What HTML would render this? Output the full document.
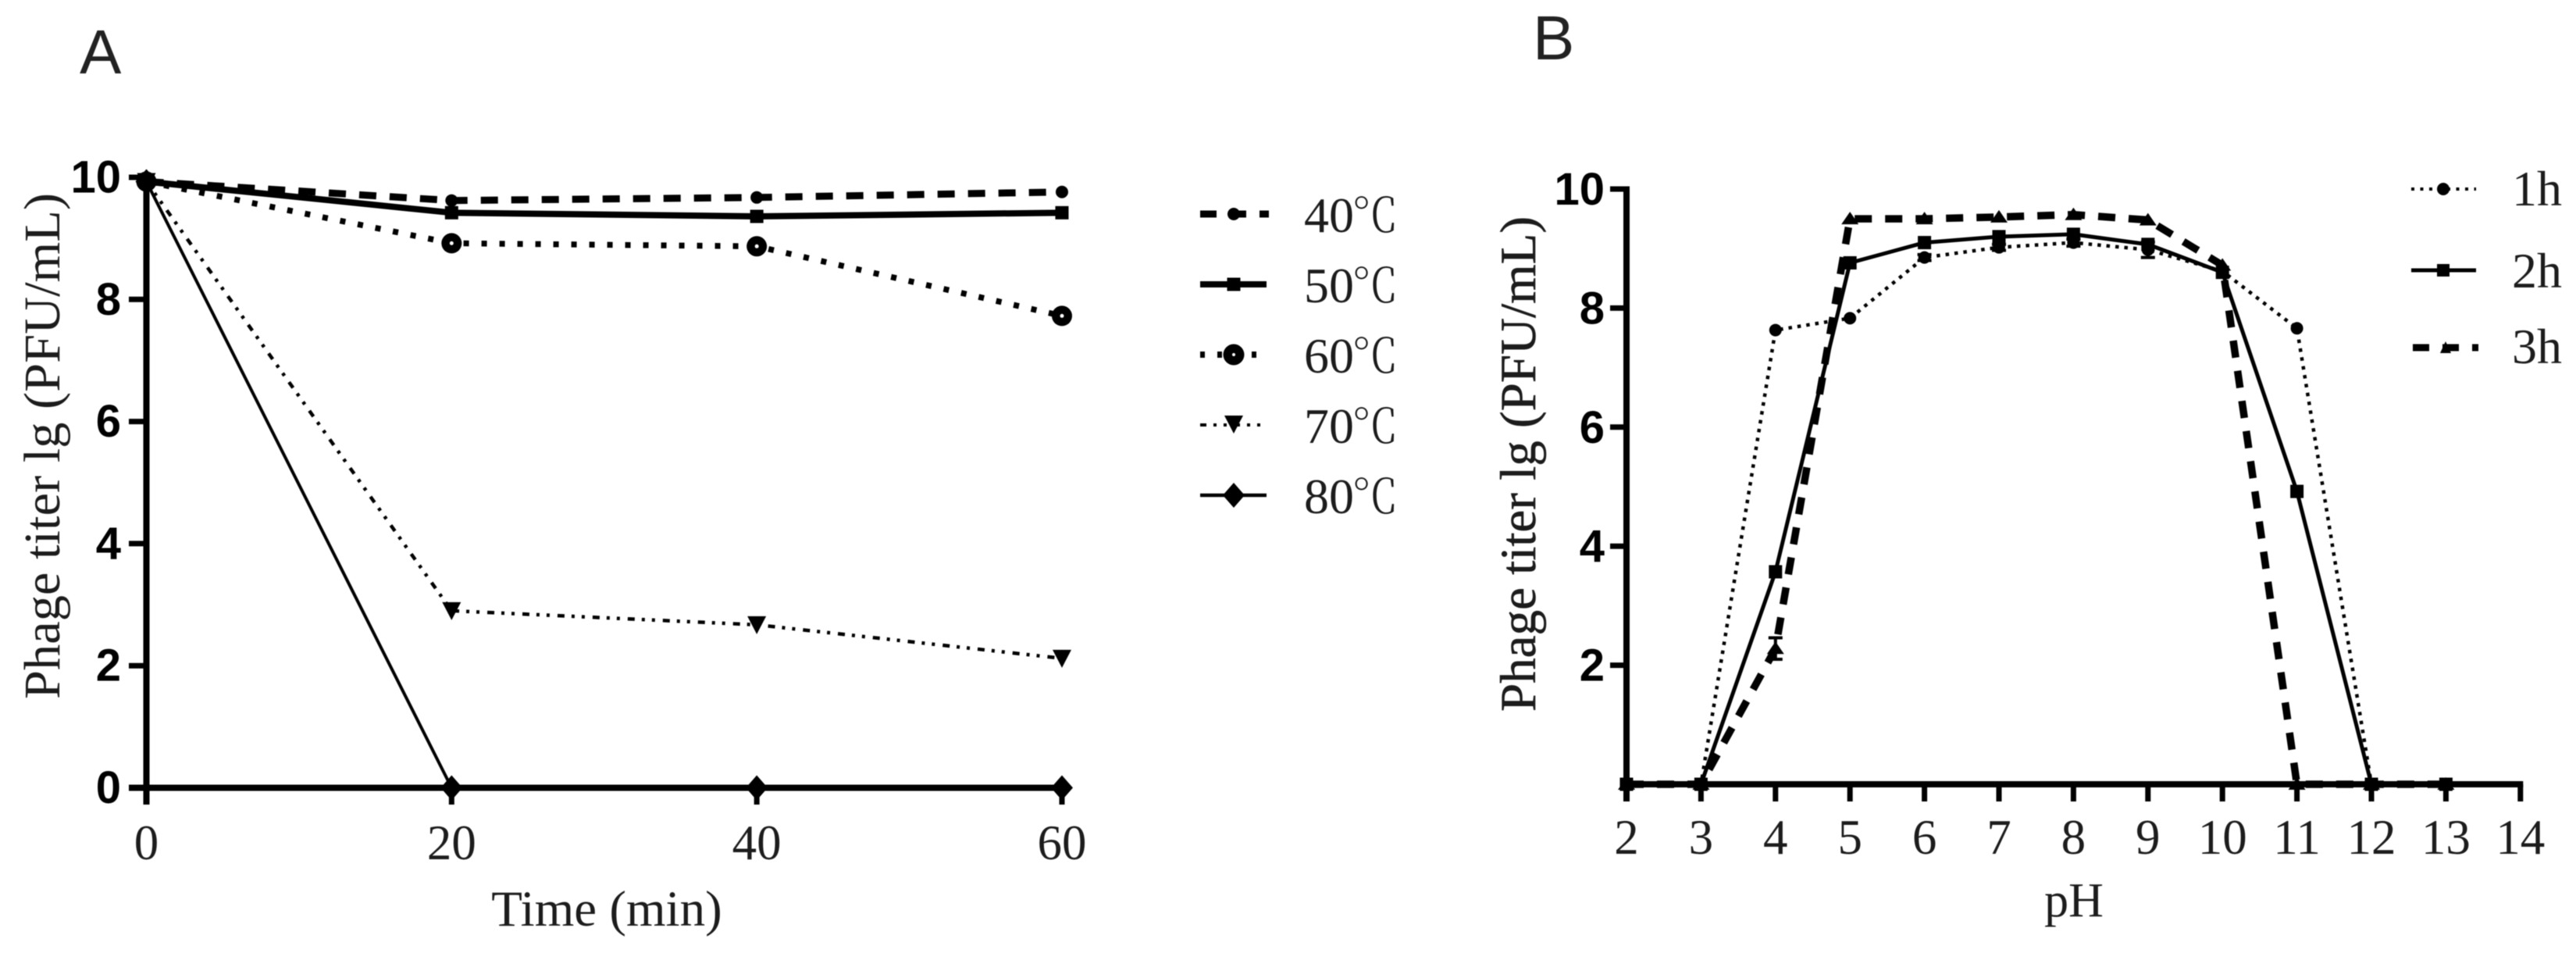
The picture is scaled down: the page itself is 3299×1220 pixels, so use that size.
<!DOCTYPE html>
<html lang="en">
<head>
<meta charset="utf-8">
<title>Phage titer stability charts</title>
<style>
html,body{margin:0;padding:0;background:#fff;}
body{width:3299px;height:1220px;overflow:hidden;}
svg{display:block;}
.serif{font-family:"Liberation Serif","Noto Serif CJK SC",serif;fill:#1c1c1c;}
.sans{font-family:"Liberation Sans",sans-serif;fill:#222;}
.tick-y{font-family:"Liberation Sans",sans-serif;font-weight:700;font-size:58px;fill:#000;}
.tick-x{font-family:"Liberation Serif",serif;font-size:63px;fill:#1c1c1c;}
.leg{font-size:64px;}
.cel{font-family:"Noto Serif CJK SC",serif;font-size:60px;font-weight:300;}
</style>
</head>
<body>
<svg id="fig" xmlns="http://www.w3.org/2000/svg" width="3299" height="1220" viewBox="0 0 3299 1220">
  <rect width="3299" height="1220" fill="#fff"/>
  <g id="root" style="filter:blur(.6px)">
    <text class="sans" x="102" y="94" font-size="80">A</text>
    <text class="sans" x="1963" y="76" font-size="80">B</text>

    <g id="chartA"></g>
    <g id="chartB"></g>

    <text class="serif" transform="translate(76,571) rotate(-90)" text-anchor="middle" font-size="66" textLength="648" lengthAdjust="spacingAndGlyphs">Phage titer lg (PFU/mL)</text>
    <text class="serif" x="777" y="1185" text-anchor="middle" font-size="65">Time (min)</text>
    <text class="serif" transform="translate(1966,594) rotate(-90)" text-anchor="middle" font-size="65" stroke="#1c1c1c" stroke-width=".6" textLength="634" lengthAdjust="spacingAndGlyphs">Phage titer lg (PFU/mL)</text>
    <text class="serif" x="2656" y="1173" text-anchor="middle" font-size="62">pH</text>

    <!-- Legend A -->
    <g>
      <g>
        <line x1="1537" y1="274" x2="1625" y2="274" stroke="#000" stroke-width="9" stroke-dasharray="21 17"/>
        <circle cx="1580" cy="274" r="8" fill="#000"/>
        <text class="serif leg" x="1670" y="297">40<tspan class="cel" x="1731">℃</tspan></text>
      </g>
      <g>
        <line x1="1537" y1="364" x2="1622" y2="364" stroke="#000" stroke-width="8"/>
        <rect x="1571.5" y="355.5" width="17" height="17" fill="#000"/>
        <text class="serif leg" x="1670" y="387">50<tspan class="cel" x="1731">℃</tspan></text>
      </g>
      <g>
        <line x1="1537" y1="454" x2="1622" y2="454" stroke="#000" stroke-width="8" stroke-dasharray="6 16"/>
        <circle cx="1580" cy="454" r="13.5" fill="#000"/>
        <circle cx="1580" cy="454" r="2" fill="#fff"/>
        <text class="serif leg" x="1670" y="477">60<tspan class="cel" x="1731">℃</tspan></text>
      </g>
      <g>
        <line x1="1537" y1="544" x2="1622" y2="544" stroke="#000" stroke-width="4" stroke-dasharray="8 9 4 9 4 9"/>
        <path d="M1568 532H1592L1580 555Z" fill="#000"/>
        <text class="serif leg" x="1670" y="567">70<tspan class="cel" x="1731">℃</tspan></text>
      </g>
      <g>
        <line x1="1537" y1="634" x2="1622" y2="634" stroke="#000" stroke-width="4.5"/>
        <path d="M1580 618L1594 634L1580 650L1566 634Z" fill="#000"/>
        <text class="serif leg" x="1670" y="657">80<tspan class="cel" x="1731">℃</tspan></text>
      </g>
    </g>

    <!-- Legend B -->
    <g>
      <g>
        <line x1="3088" y1="242" x2="3171" y2="242" stroke="#000" stroke-width="4" stroke-dasharray="4 7.5"/>
        <circle cx="3129" cy="242" r="8" fill="#000"/>
        <text class="serif leg" x="3281" y="263" text-anchor="end">1h</text>
      </g>
      <g>
        <line x1="3088" y1="346" x2="3171" y2="346" stroke="#000" stroke-width="5"/>
        <rect x="3121" y="338" width="16" height="16" fill="#000"/>
        <text class="serif leg" x="3281" y="368" text-anchor="end">2h</text>
      </g>
      <g>
        <line x1="3090" y1="445" x2="3174" y2="445" stroke="#000" stroke-width="9" stroke-dasharray="21 17"/>
        <path d="M3125 452L3132 437L3139 452Z" fill="#000"/>
        <text class="serif leg" x="3281" y="465" text-anchor="end">3h</text>
      </g>
    </g>
  </g>
</svg>
<script>
// ---- Chart A data: time vs. phage titer at each temperature ----
const timeCategories = [0, 20, 40, 60];
const timeTickLabels = ['0', '20', '40', '60'];
const titerTicksA = [0, 2, 4, 6, 8, 10];
const values40c = [9.93, 9.62, 9.67, 9.76];
const values50c = [9.93, 9.42, 9.36, 9.42];
const values60c = [9.93, 8.92, 8.87, 7.73];
const values70c = [9.93, 2.90, 2.67, 2.12];
const values80c = [9.93, 0, 0, 0];

// ---- Chart B data: pH vs. phage titer at each duration ----
const phCategories = [2, 3, 4, 5, 6, 7, 8, 9, 10, 11, 12, 13];
const phTicks = [2, 3, 4, 5, 6, 7, 8, 9, 10, 11, 12, 13, 14];
const titerTicksB = [2, 4, 6, 8, 10];
const values1h = [0, 0, 7.63, 7.83, 8.85, 9.02, 9.10, 8.98, 8.62, 7.66, 0, 0];
const values2h = [0, 0, 3.57, 8.76, 9.10, 9.20, 9.24, 9.07, 8.60, 4.92, 0, 0];
const values3h = [0, 0, 2.28, 9.50, 9.50, 9.53, 9.57, 9.48, 8.72, 0, 0, 0];
const errors1h = [0, 0, 0, 0, 0.05, 0.05, 0.06, 0.13, 0, 0, 0, 0];
const errors3h = [0, 0, 0.18, 0, 0, 0, 0, 0, 0, 0, 0, 0];

const SVG_NS = 'http://www.w3.org/2000/svg';
function make(tag, parent, props) {
  const node = document.createElementNS(SVG_NS, tag);
  for (const k in props) node.setAttribute(k, props[k]);
  parent.appendChild(node);
  return node;
}

// Axis functions
const xA = t => 187.5 + (t - 0) * (1360 - 187.5) / 60;
const yA = v => 1008.5 - v * 78.15;
const xB = p => 2083 + (p - 2) * 95.4;
const yB = v => 1004 - v * 76.2;

function drawMarker(parent, kind, x, y, name) {
  let el;
  if (kind === 'circle') {
    el = make('circle', parent, {cx: x, cy: y, r: 8, fill: '#000'});
  } else if (kind === 'ring') {
    el = make('circle', parent, {cx: x, cy: y, r: 13, fill: '#000'});
    const hole = make('circle', parent, {cx: x, cy: y, r: 2.5, fill: '#fff'});
    
    
  } else if (kind === 'square') {
    el = make('rect', parent, {x: x - 8.5, y: y - 8.5, width: 17, height: 17, fill: '#000'});
  } else if (kind === 'triDown') {
    el = make('path', parent, {d: `M${x-12} ${y-11}H${x+12}L${x} ${y+12}Z`, fill: '#000'});
  } else if (kind === 'triUp') {
    el = make('path', parent, {d: `M${x-11} ${y+7}L${x} ${y-9}L${x+11} ${y+7}Z`, fill: '#000'});
  } else {
    el = make('path', parent, {d: `M${x} ${y-16}L${x+14} ${y}L${x} ${y+16}L${x-14} ${y}Z`, fill: '#000'});
  }
  
  
}

function drawSeries(parent, name, xs, ys, fx, fy, style, errs) {
  const g = make('g', parent, {});
  
  
  const pts = xs.map((x, i) => fx(x) + ',' + fy(ys[i])).join(' ');
  const line = make('polyline', g, {
    points: pts, fill: 'none', stroke: '#000',
    'stroke-width': style.width,
    'stroke-linejoin': 'round',
    'stroke-linecap': style.cap || 'butt',
    'stroke-dasharray': style.dash || 'none'
  });
  
  
  xs.forEach((x, i) => {
    if (errs && errs[i] > 0) {
      const bar = make('path', g, {
        d: `M${fx(x)} ${fy(ys[i]+errs[i])}V${fy(ys[i]-errs[i])}M${fx(x)-9} ${fy(ys[i]+errs[i])}h18M${fx(x)-9} ${fy(ys[i]-errs[i])}h18`,
        stroke: '#000', 'stroke-width': 4, fill: 'none'
      });
      
      
    }
    drawMarker(g, style.marker, fx(x), fy(ys[i]), 'point-' + name + '-' + x);
  });
}

function drawYAxis(parent, name, axisX, ticks, fy, tickLeft, labelRight, bottom, dy) {
  const axis = make('line', parent, {x1: axisX, x2: axisX, y1: fy(ticks[ticks.length-1]) - 3.5, y2: bottom, stroke: '#000', 'stroke-width': 8});
  
  
  ticks.forEach(v => {
    const t = make('line', parent, {x1: tickLeft, x2: axisX, y1: fy(v), y2: fy(v), stroke: '#000', 'stroke-width': 7});
    
    
    const lbl = make('text', parent, {x: labelRight, y: fy(v) + dy, 'text-anchor': 'end', class: 'tick-y'});
    lbl.textContent = String(v);
    
    
  });
}

function drawXAxis(parent, name, left, right, axisY, ticks, labels, fx, tickBottom, baseY) {
  const axis = make('line', parent, {x1: left, x2: right, y1: axisY, y2: axisY, stroke: '#000', 'stroke-width': 8});
  
  
  ticks.forEach((v, i) => {
    const t = make('line', parent, {x1: fx(v), x2: fx(v), y1: axisY, y2: tickBottom, stroke: '#000', 'stroke-width': 7});
    
    
    const lbl = make('text', parent, {x: fx(v), y: baseY, 'text-anchor': 'middle', class: 'tick-x'});
    lbl.textContent = labels[i];
    
    
  });
}

// ---- Render chart A ----
const chartA = document.getElementById('chartA');
drawYAxis(chartA, 'y-a', xA(0), titerTicksA, yA, 165, 155, 1030, 19.5);
drawXAxis(chartA, 'x-a', 165, xA(60) + 3.5, yA(0), timeCategories, timeTickLabels, xA, 1030, 1100);
drawSeries(chartA, '40c', timeCategories, values40c, xA, yA, {width: 9, dash: '22 17', marker: 'circle'});
drawSeries(chartA, '50c', timeCategories, values50c, xA, yA, {width: 8, marker: 'square'});
drawSeries(chartA, '60c', timeCategories, values60c, xA, yA, {width: 7.5, dash: '7 16', marker: 'ring'});
drawSeries(chartA, '70c', timeCategories, values70c, xA, yA, {width: 4.5, dash: '9 9 4 9 4 10', marker: 'triDown'});
drawSeries(chartA, '80c', timeCategories, values80c, xA, yA, {width: 4, marker: 'diamond'});

// ---- Render chart B ----
const chartB = document.getElementById('chartB');
drawYAxis(chartB, 'y-b', xB(2), titerTicksB, yB, 2062, 2055, 1026, 20);
drawXAxis(chartB, 'x-b', xB(2) - 4, xB(14) + 3.5, yB(0), phTicks, phTicks.map(String), xB, 1026, 1093);
drawSeries(chartB, '1h', phCategories, values1h, xB, yB, {width: 4.5, dash: '4.5 7', marker: 'circle'}, errors1h);
drawSeries(chartB, '2h', phCategories, values2h, xB, yB, {width: 5, marker: 'square'});
drawSeries(chartB, '3h', phCategories, values3h, xB, yB, {width: 9.5, dash: '22 17', marker: 'triUp'}, errors3h);
</script>
</body>
</html>
